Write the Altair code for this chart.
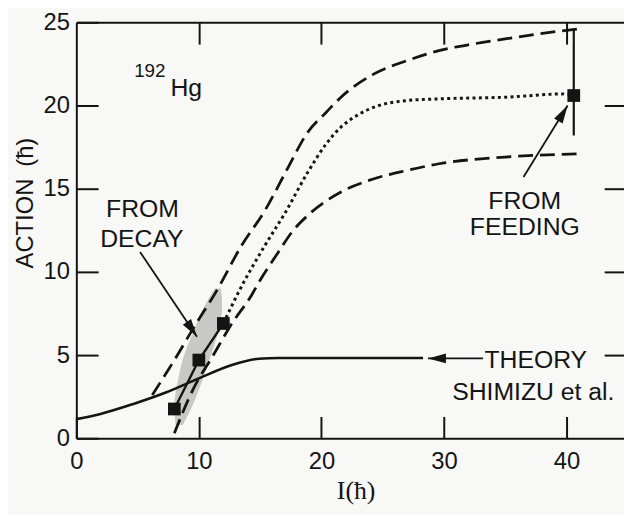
import altair as alt
import pandas as pd

# ---------------- data ----------------
theory_I = [0.0, 1.9, 4.6, 7.3, 10.0, 12.7, 14.9, 16.5, 20.0, 24.0, 28.3]
theory_A = [1.15, 1.45, 2.05, 2.75, 3.6, 4.4, 4.78, 4.82, 4.82, 4.82, 4.82]

upper_I = [6.2, 8.0, 9.7, 11.4, 13.5, 15.4, 17.3, 18.8, 20.4, 21.6, 24.3, 27.0, 29.6, 32.4, 35.0, 37.7, 40.9]
upper_A = [2.6, 4.7, 6.8, 8.8, 11.6, 13.7, 16.3, 18.3, 19.6, 20.5, 21.9, 22.7, 23.3, 23.7, 24.0, 24.3, 24.6]

lower_I = [8.0, 9.5, 11.1, 12.7, 14.3, 15.0, 16.5, 17.6, 18.9, 21.6, 24.3, 27.0, 29.6, 35.0, 41.0]
lower_A = [0.3, 2.9, 4.9, 6.9, 8.6, 9.5, 11.2, 12.4, 13.4, 14.8, 15.6, 16.1, 16.5, 16.9, 17.1]

dotted_I = [12.0, 13.25, 15.4, 17.0, 18.9, 20.4, 21.6, 22.9, 24.3, 27.0, 29.6, 35.0, 39.9, 40.6]
dotted_A = [6.9, 8.8, 11.6, 13.5, 16.0, 17.7, 18.7, 19.4, 19.9, 20.3, 20.4, 20.5, 20.7, 20.6]

decay_I = [8.0, 10.0, 12.0]
decay_A = [1.76, 4.7, 6.9]

feed_I = [40.6]
feed_A = [20.6]
feed_lo = [18.2]
feed_hi = [24.6]

band_A = [0.8, 2.0, 3.5, 5.0, 6.5, 8.0, 9.0]
band_lo = [8.1, 8.0, 8.3, 8.8, 9.6, 10.5, 11.3]
band_hi = [8.7, 9.5, 10.3, 11.0, 11.6, 11.9, 11.8]

# arrows: start (I, A) -> tip (I, A), head angle (deg, clockwise from up)
arrow_I0 = [5.2, 36.5, 33.2]
arrow_A0 = [11.2, 15.7, 4.8]
arrow_I1 = [9.85, 40.1, 28.7]
arrow_A1 = [6.1, 20.0, 4.8]
arrow_ang = [146, 31, 270]

label_text = ["FROM", "DECAY", "FROM", "FEEDING", "THEORY", "SHIMIZU et al."]
label_I = [5.4, 5.35, 36.6, 36.6, 37.5, 37.3]
label_A = [13.8, 12.0, 14.26, 12.72, 4.7, 2.76]

nuc_text = ["192", "Hg"]
nuc_I = [6.0, 8.97]
nuc_A = [22.1, 21.05]
nuc_size = [19, 25]

x_ticks = [0, 10, 20, 30, 40]
y_ticks = [0, 5, 10, 15, 20, 25]

# ---------------- chart ----------------
X_MAX = 44.7
W, H = 553, 420
INK = "#141414"
FONT = "Liberation Sans"

xs = alt.Scale(domain=[0, X_MAX], nice=False, zero=False)
ys = alt.Scale(domain=[0, 25], nice=False, zero=False)

ax_common = dict(grid=False, tickColor=INK, tickWidth=2, domainColor=INK, domainWidth=2,
                 labelFont=FONT, labelFontSize=24, labelColor=INK, labelFlush=False)

x_main = alt.Axis(orient="bottom", values=x_ticks, offset=-22, tickSize=22, domain=False,
                  labelPadding=12, title="I(ħ)", titleFont="Liberation Serif", titleFontSize=26,
                  titleFontWeight="normal", titleColor=INK, titleX=282, titleY=75,
                  titleAlign="center", titleBaseline="middle", **ax_common)
y_main = alt.Axis(orient="left", values=y_ticks, offset=-22, tickSize=22, domain=False,
                  labelPadding=7, title="ACTION\u2002(ħ)", titleFont=FONT, titleFontSize=24,
                  titleFontWeight="normal", titleColor=INK, titleAngle=270, titleX=-73, titleY=182,
                  titleAlign="center", titleBaseline="middle", **ax_common)
x_top = alt.Axis(orient="top", values=[10, 20, 30, 40], offset=-22, tickSize=22, domain=False,
                 labels=False, title=None, **ax_common)
y_right = alt.Axis(orient="right", values=[5, 10, 15, 20], offset=-20, tickSize=20, domain=False,
                   labels=False, title=None, **ax_common)
x_dom_b = alt.Axis(orient="bottom", ticks=False, labels=False, title=None, domain=True, **ax_common)
y_dom_l = alt.Axis(orient="left", ticks=False, labels=False, title=None, domain=True, **ax_common)
x_dom_t = alt.Axis(orient="top", ticks=False, labels=False, title=None, domain=True, **ax_common)

def df(**cols):
    return pd.DataFrame(cols)

band = alt.Chart(df(A=band_A, lo=band_lo, hi=band_hi)).mark_area(
    orient="horizontal", color="#c2c2c2", opacity=0.9, interpolate="monotone"
).encode(
    y=alt.Y("A:Q", scale=ys, axis=None),
    x=alt.X("lo:Q", scale=xs, axis=None),
    x2="hi:Q",
)

theory = alt.Chart(df(I=theory_I, A=theory_A)).mark_line(
    color=INK, strokeWidth=2.6, interpolate="monotone"
).encode(x=alt.X("I:Q", scale=xs, axis=x_main), y=alt.Y("A:Q", scale=ys, axis=y_main))

upper = alt.Chart(df(I=upper_I, A=upper_A)).mark_line(
    color=INK, strokeWidth=2.8, strokeDash=[15, 7], interpolate="monotone"
).encode(x=alt.X("I:Q", scale=xs, axis=x_top), y=alt.Y("A:Q", scale=ys, axis=y_right))

lower = alt.Chart(df(I=lower_I, A=lower_A)).mark_line(
    color=INK, strokeWidth=2.8, strokeDash=[15, 7], interpolate="monotone"
).encode(x=alt.X("I:Q", scale=xs, axis=x_dom_b), y=alt.Y("A:Q", scale=ys, axis=y_dom_l))

dotted = alt.Chart(df(I=dotted_I, A=dotted_A)).mark_line(
    color=INK, strokeWidth=3, strokeDash=[3, 3.4], interpolate="monotone"
).encode(x=alt.X("I:Q", scale=xs, axis=x_dom_t), y=alt.Y("A:Q", scale=ys, axis=None))

decay_line = alt.Chart(df(I=decay_I, A=decay_A)).mark_line(
    color=INK, strokeWidth=2.4
).encode(x=alt.X("I:Q", scale=xs, axis=None), y=alt.Y("A:Q", scale=ys, axis=None))

decay_pts = alt.Chart(df(I=decay_I, A=decay_A)).mark_point(
    shape="square", filled=True, color=INK, opacity=1, size=165
).encode(x=alt.X("I:Q", scale=xs, axis=None), y=alt.Y("A:Q", scale=ys, axis=None))

feed_bar = alt.Chart(df(I=feed_I, lo=feed_lo, hi=feed_hi)).mark_rule(
    color=INK, strokeWidth=2.2
).encode(x=alt.X("I:Q", scale=xs, axis=None), y=alt.Y("lo:Q", scale=ys, axis=None), y2="hi:Q")

feed_pt = alt.Chart(df(I=feed_I, A=feed_A)).mark_point(
    shape="square", filled=True, color=INK, opacity=1, size=165
).encode(x=alt.X("I:Q", scale=xs, axis=None), y=alt.Y("A:Q", scale=ys, axis=None))

arr = df(I0=arrow_I0, A0=arrow_A0, I1=arrow_I1, A1=arrow_A1, ang=arrow_ang)
arrow_lines = alt.Chart(arr).mark_rule(color=INK, strokeWidth=1.8).encode(
    x=alt.X("I0:Q", scale=xs, axis=None), y=alt.Y("A0:Q", scale=ys, axis=None),
    x2="I1:Q", y2="A1:Q",
)
arrow_heads = alt.Chart(arr).mark_point(
    shape="M0,0 L0.55,2 L-0.55,2 Z", filled=True, color=INK, opacity=1, size=330
).encode(
    x=alt.X("I1:Q", scale=xs, axis=None), y=alt.Y("A1:Q", scale=ys, axis=None),
    angle=alt.Angle("ang:Q", scale=None),
)

labels = alt.Chart(df(t=label_text, I=label_I, A=label_A)).mark_text(
    font=FONT, fontSize=25, color=INK, align="center", baseline="middle"
).encode(x=alt.X("I:Q", scale=xs, axis=None), y=alt.Y("A:Q", scale=ys, axis=None), text="t:N")

nuc = alt.Chart(df(t=nuc_text, I=nuc_I, A=nuc_A, s=nuc_size)).mark_text(
    font=FONT, color=INK, align="center", baseline="middle"
).encode(
    x=alt.X("I:Q", scale=xs, axis=None), y=alt.Y("A:Q", scale=ys, axis=None), text="t:N",
    size=alt.Size("s:Q", scale=None, legend=None),
)

chart = alt.layer(
    band, theory, upper, lower, dotted, decay_line, decay_pts, feed_bar, feed_pt,
    arrow_lines, arrow_heads, labels, nuc
).resolve_axis(x="independent", y="independent").properties(
    width=W, height=H,
    autosize=alt.AutoSizeParams(type="none"),
    padding={"left": 69, "top": 12, "right": 0, "bottom": 75},
    background="#f8f8f6",
).configure_view(stroke=None)

chart.save("out.html", embed_options={"renderer": "svg", "actions": False})
